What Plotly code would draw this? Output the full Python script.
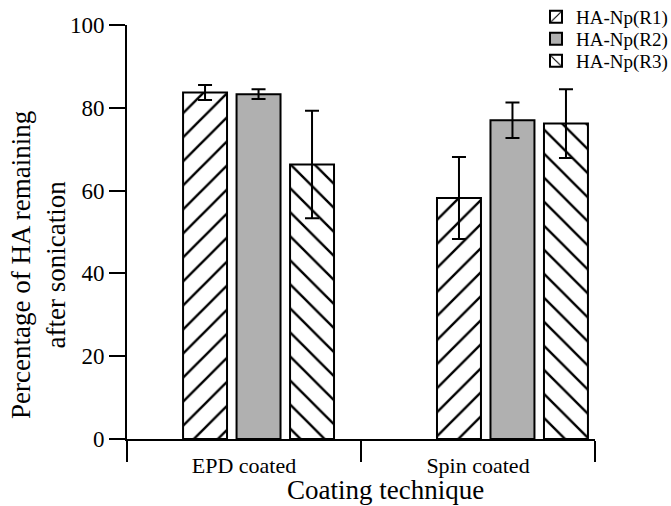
import plotly.graph_objects as go

# Coating techniques and mean HA retention (%) with error bars
techniques = ["EPD coated", "Spin coated"]
series_names = ["HA-Np(R1)", "HA-Np(R2)", "HA-Np(R3)"]
r1_values = [83.7, 58.2]
r2_values = [83.3, 77.0]
r3_values = [66.3, 76.2]
r1_errors = [1.8, 9.9]
r2_errors = [1.2, 4.3]
r3_errors = [13.0, 8.3]
y_ticks = [0, 20, 40, 60, 80, 100]

FONT = "Liberation Serif"
W, H = 671, 506
ML, MB = 127, 67
PW, PH = W - ML, H - MB          # paper area (right/top margins are zero)
PLOT_W, PLOT_TOP = 468, 25       # plot box width and top offset in px


def px_x(px):
    return (px - ML) / PW


def px_y(py):
    return (PH - py) / PH


hatch = dict(fgcolor="#000000", bgcolor="#ffffff", fgopacity=1, fillmode="replace",
             size=17, solidity=0.14)
styles = [
    dict(pattern=dict(shape="/", **hatch), color="#000000"),
    dict(pattern=None, color="#b0b0b0"),
    dict(pattern=dict(shape="\\", **hatch), color="#000000"),
]
legend_ids = ["legend", "legend2", "legend3"]
legend_rows = [17, 39, 61]

fig = go.Figure()
group_pos = list(range(len(techniques)))
for name, vals, errs, st, lg in zip(series_names, [r1_values, r2_values, r3_values],
                                     [r1_errors, r2_errors, r3_errors], styles, legend_ids):
    marker = dict(color=st["color"], line=dict(color="black", width=2))
    if st["pattern"] is not None:
        marker["pattern"] = st["pattern"]
    fig.add_trace(go.Bar(
        x=group_pos, y=vals, name=name, marker=marker, legend=lg,
        error_y=dict(type="data", array=errs, color="black", thickness=2, width=7),
        xaxis="x", yaxis="y",
    ))

# invisible helper so the category axis is drawn
fig.add_trace(go.Scatter(x=[0, len(techniques)], y=[0, 0], mode="lines",
                         line=dict(width=0), opacity=0, showlegend=False,
                         hoverinfo="skip", xaxis="x2", yaxis="y"))

x_dom = [0, PLOT_W / PW]
fig.update_layout(
    width=W, height=H,
    margin=dict(l=ML, r=0, t=0, b=MB, autoexpand=False),
    paper_bgcolor="white", plot_bgcolor="white",
    barmode="group", bargap=0.368, bargroupgap=0.178,
    font=dict(family=FONT, color="black"),
    showlegend=True,
    xaxis=dict(domain=x_dom, range=[-0.518, 1.325], showline=False,
               showticklabels=False, ticks="", showgrid=False, zeroline=False),
    xaxis2=dict(domain=x_dom, overlaying="x", side="bottom", range=[0, len(techniques)],
                tickvals=[i + 0.5 for i in group_pos], ticktext=techniques,
                ticks="", showline=True, linecolor="black", linewidth=2,
                showgrid=False, zeroline=False, ticklabelstandoff=6, automargin=False,
                tickfont=dict(family=FONT, size=22, color="black"),
                minor=dict(tickvals=list(range(len(techniques) + 1)),
                           ticks="outside", ticklen=21, tickwidth=2,
                           tickcolor="black", showgrid=False)),
    yaxis=dict(domain=[0, (PH - PLOT_TOP) / PH], range=[0, 100], tickvals=y_ticks,
               ticks="outside", ticklen=16, tickwidth=2, tickcolor="black",
               showline=True, linecolor="black", linewidth=2, showgrid=False,
               zeroline=False, automargin=False,
               tickfont=dict(family=FONT, size=23, color="black")),
)
for lg, row in zip(legend_ids, legend_rows):
    fig.update_layout({lg: dict(x=px_x(536), y=px_y(row), xanchor="left", yanchor="middle",
                                font=dict(family=FONT, size=19, color="black"),
                                bgcolor="rgba(0,0,0,0)", itemwidth=30)})

fig.add_annotation(text="Percentage of HA remaining<br>after sonication",
                   xref="paper", yref="paper", x=px_x(38), y=px_y(265),
                   xanchor="center", yanchor="middle", textangle=-90, showarrow=False,
                   font=dict(family=FONT, size=27, color="black"))
fig.add_annotation(text="Coating technique", xref="paper", yref="paper",
                   x=px_x(385), y=px_y(490), xanchor="center", yanchor="middle",
                   showarrow=False, font=dict(family=FONT, size=27, color="black"))

fig.write_html("out.html")
